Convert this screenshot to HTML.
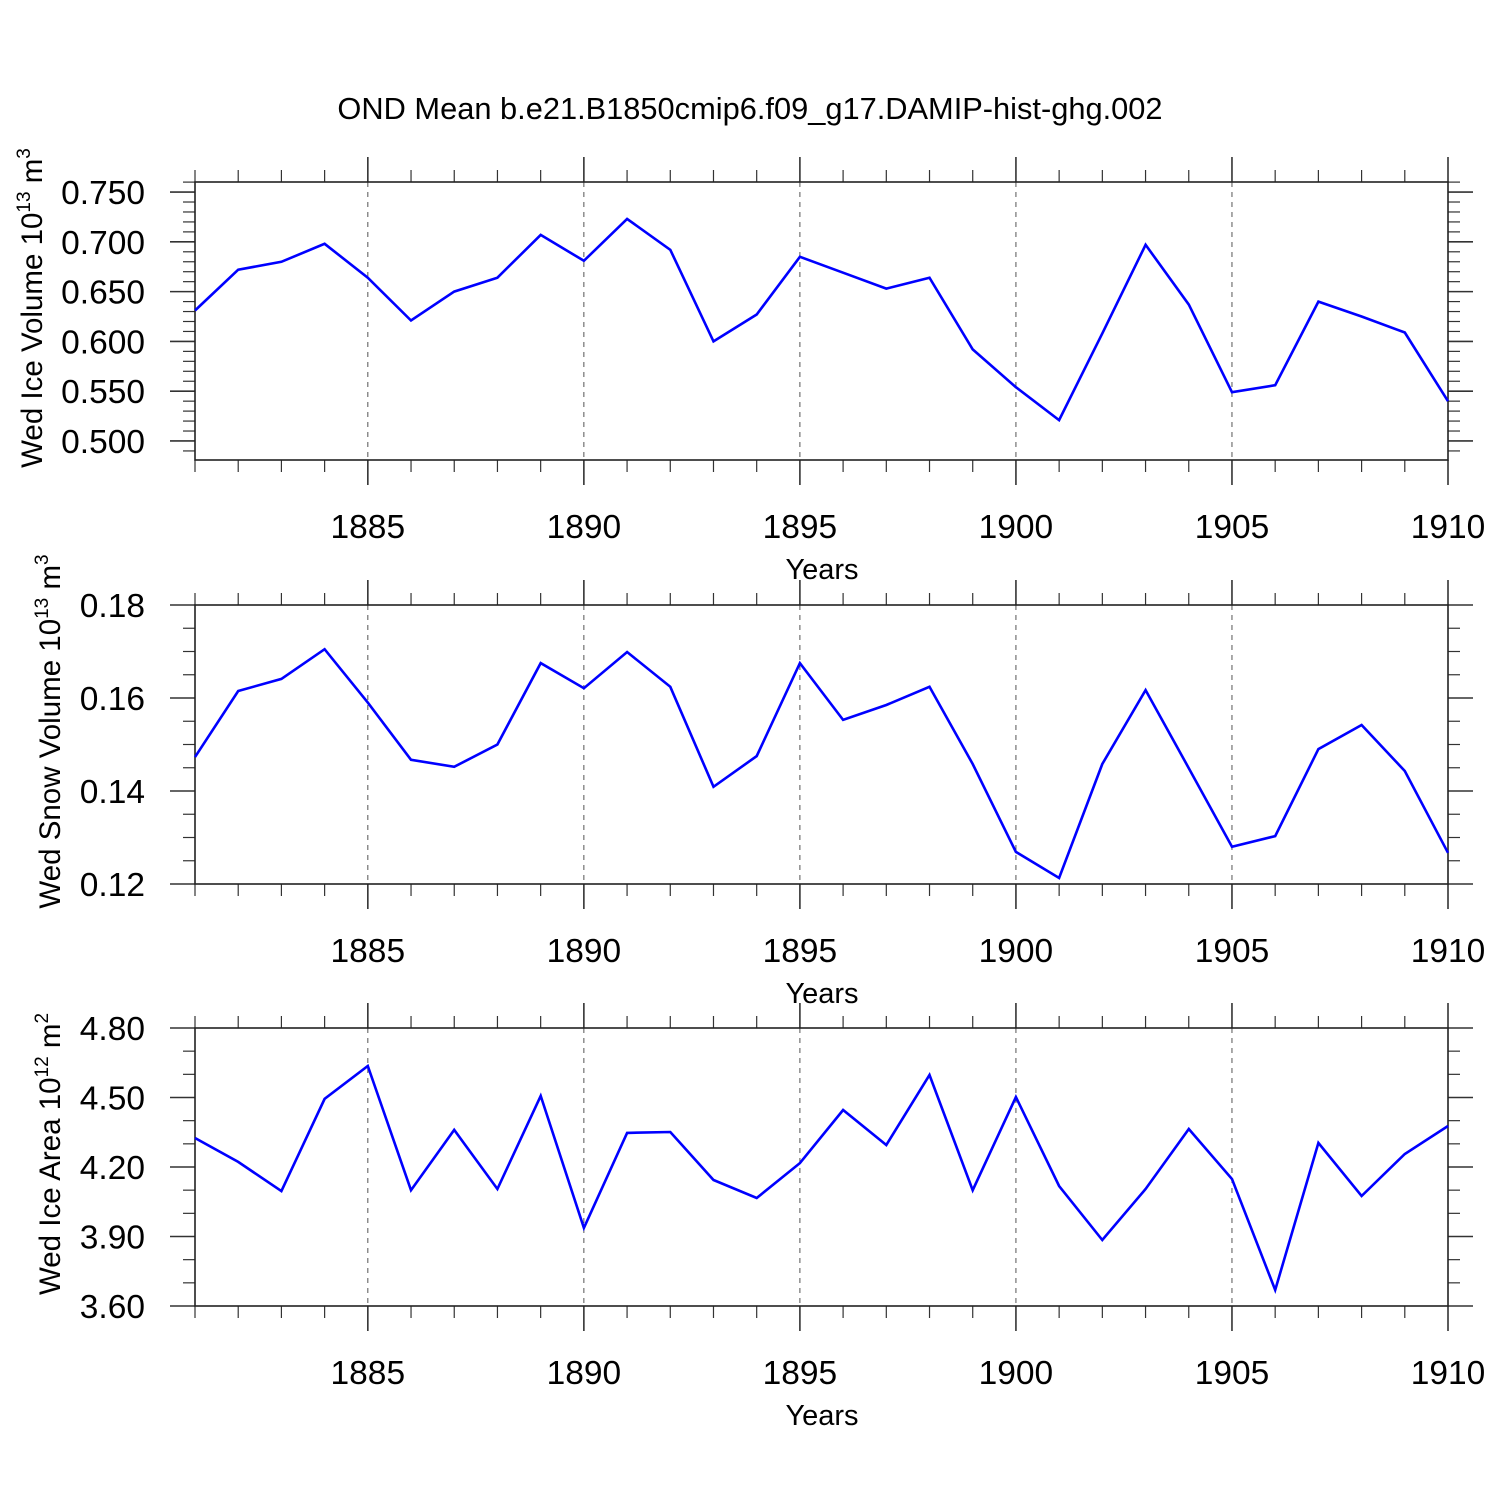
<!DOCTYPE html>
<html><head><meta charset="utf-8"><style>
html,body{margin:0;padding:0;background:#fff;}
svg{display:block;font-family:"Liberation Sans",Arial,sans-serif;}
</style></head><body>
<svg id="chart" width="1500" height="1500" viewBox="0 0 1500 1500" xmlns="http://www.w3.org/2000/svg">
<rect width="1500" height="1500" fill="#fff"/>
<text x="750" y="119" font-size="30.8" text-anchor="middle">OND Mean b.e21.B1850cmip6.f09_g17.DAMIP-hist-ghg.002</text>
</svg>
<script>
const years = [1881,1882,1883,1884,1885,1886,1887,1888,1889,1890,1891,1892,1893,1894,1895,1896,1897,1898,1899,1900,1901,1902,1903,1904,1905,1906,1907,1908,1909,1910];
const iceVolume = [0.631,0.672,0.680,0.698,0.664,0.621,0.650,0.664,0.707,0.681,0.723,0.692,0.600,0.627,0.685,0.669,0.653,0.664,0.592,0.554,0.521,0.608,0.697,0.637,0.549,0.556,0.640,0.625,0.609,0.540];
const snowVolume = [0.1473,0.1615,0.1641,0.1705,0.159,0.1467,0.1452,0.150,0.1675,0.1621,0.1699,0.1624,0.1409,0.1475,0.1675,0.1553,0.1585,0.1624,0.1458,0.1269,0.1213,0.1458,0.1617,0.1449,0.128,0.1303,0.149,0.1542,0.1443,0.1267];
const iceArea = [4.325,4.222,4.096,4.494,4.636,4.10,4.36,4.105,4.507,3.937,4.347,4.351,4.144,4.066,4.217,4.446,4.295,4.597,4.10,4.502,4.118,3.885,4.105,4.364,4.148,3.669,4.304,4.075,4.256,4.377];
const xTickYears = [1885,1890,1895,1900,1905,1910];
const iceTicks = ["0.500","0.550","0.600","0.650","0.700","0.750"];
const snowTicks = ["0.12","0.14","0.16","0.18"];
const areaTicks = ["3.60","3.90","4.20","4.50","4.80"];

const NS="http://www.w3.org/2000/svg";
const svg=document.getElementById('chart');
function mk(tag,attrs,parent){const e=document.createElementNS(NS,tag);for(const k in attrs)e.setAttribute(k,attrs[k]);(parent||svg).appendChild(e);return e;}
const L=195,R=1448;
const xS=y=>L+(y-1881)*(R-L)/(1910-1881);

const panels=[
 {name:'ice-volume',top:182,bot:460,vmin:0.4809,vmax:0.7601,data:iceVolume,ticks:iceTicks,minor:0.01,titleX:32,t1:'Wed Ice Volume 10',sup:'13',t2:' m',sup2:'3'},
 {name:'snow-volume',top:605,bot:884,vmin:0.12,vmax:0.18,data:snowVolume,ticks:snowTicks,minor:0.005,titleX:50,t1:'Wed Snow Volume 10',sup:'13',t2:' m',sup2:'3'},
 {name:'ice-area',top:1028,bot:1306,vmin:3.60,vmax:4.80,data:iceArea,ticks:areaTicks,minor:0.1,titleX:50,t1:'Wed Ice Area 10',sup:'12',t2:' m',sup2:'2'}
];
panels.forEach(p=>{
 const g=mk('g',{});
 
 
 const yS=v=>p.bot-(v-p.vmin)*(p.bot-p.top)/(p.vmax-p.vmin);
 xTickYears.forEach(yr=>{ if(yr<1910){const gl=mk('line',{x1:xS(yr),x2:xS(yr),y1:p.top,y2:p.bot,stroke:'#555','stroke-width':1,'stroke-dasharray':'5,5'},g);
  }});
 years.forEach(yr=>{const x=xS(yr);const maj=xTickYears.includes(yr);const len=maj?25:12;
  mk('line',{x1:x,x2:x,y1:p.top-len,y2:p.top,stroke:'#333','stroke-width':maj?1.6:1.2},g);
  mk('line',{x1:x,x2:x,y1:p.bot,y2:p.bot+len,stroke:'#333','stroke-width':maj?1.6:1.2},g);});
 const start=Math.ceil(p.vmin/p.minor-1e-6);
 for(let i=start;i*p.minor<=p.vmax+1e-9;i++){const v=i*p.minor;const y=yS(v);
  const maj=p.ticks.some(t=>Math.abs(parseFloat(t)-v)<1e-6);const len=maj?25:12;
  mk('line',{x1:L-len,x2:L,y1:y,y2:y,stroke:'#333','stroke-width':maj?1.6:1.2},g);
  mk('line',{x1:R,x2:R+len,y1:y,y2:y,stroke:'#333','stroke-width':maj?1.6:1.2},g);}
 p.ticks.forEach(t=>{const tx=mk('text',{x:145,y:yS(parseFloat(t))+12,'font-size':33.5,'text-anchor':'end'},g);tx.textContent=t;
  });
 xTickYears.forEach(yr=>{const tx=mk('text',{x:xS(yr),y:p.bot+78,'font-size':33.5,'text-anchor':'middle'},g);tx.textContent=yr;
  });
 const xt=mk('text',{x:822,y:p.bot+119,'font-size':29,'text-anchor':'middle'},g);xt.textContent='Years';
 
 const cy=(p.top+p.bot)/2-13;
 const yt=mk('text',{x:0,y:0,'font-size':29.5,'text-anchor':'middle',transform:`translate(${p.titleX+10},${cy}) rotate(-90)`},g);
 
 const a=mk('tspan',{},yt);a.textContent=p.t1;
 const b=mk('tspan',{dy:-12,'font-size':19},yt);b.textContent=p.sup;
 const c=mk('tspan',{dy:12},yt);c.textContent=p.t2;
 const d=mk('tspan',{dy:-12,'font-size':19},yt);d.textContent=p.sup2;
 const fr=mk('rect',{x:L,y:p.top,width:R-L,height:p.bot-p.top,fill:'none',stroke:'#222','stroke-width':1.6},g);
 
 const pts=p.data.map((v,i)=>xS(years[i]).toFixed(1)+','+yS(v).toFixed(1)).join(' ');
 const line=mk('polyline',{points:pts,fill:'none',stroke:'#0000ff','stroke-width':2.6,'stroke-linejoin':'miter'},g);
 
});
</script>
</body></html>
